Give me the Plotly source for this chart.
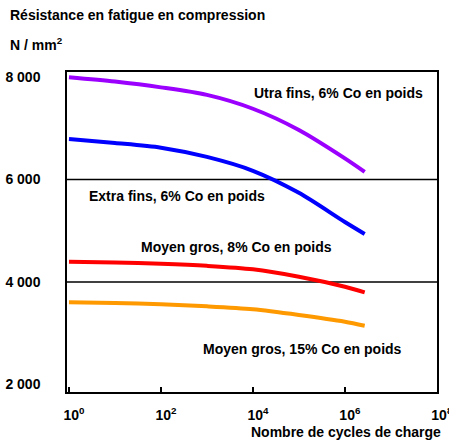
import plotly.graph_objects as go

# Data (x = number of load cycles, y = N/mm2)
cycles = [1, 1e1, 1e2, 1e3, 1e4, 1e5, 1e6, 2.7e6]
ultra_fine_6co = [7994, 7910, 7797, 7650, 7380, 6966, 6413, 6150]
extra_fine_6co = [6790, 6712, 6620, 6440, 6170, 5740, 5170, 4936]
medium_8co = [4396, 4380, 4355, 4315, 4248, 4103, 3908, 3799]
medium_15co = [3604, 3590, 3565, 3525, 3467, 3356, 3225, 3147]

series_names = ["Utra fins, 6% Co en poids", "Extra fins, 6% Co en poids",
                "Moyen gros, 8% Co en poids", "Moyen gros, 15% Co en poids"]
series_values = [ultra_fine_6co, extra_fine_6co, medium_8co, medium_15co]
colors = ["#9B00FF", "#0000FF", "#FF0000", "#FF9900"]

y_tickvals = [2000, 4000, 6000, 8000]
y_ticktext = ["2 000", "4 000", "6 000", "8 000"]
x_tickvals = [1, 1e2, 1e4, 1e6, 1e8]
x_ticktext = ["10<sup>0</sup>", "10<sup>2</sup>", "10<sup>4</sup>", "10<sup>6</sup>", "10<sup>8</sup>"]
gridlines = [4000, 6000]

FONT = "Liberation Sans, Arial, sans-serif"

fig = go.Figure()
for name, vals, c in zip(series_names, series_values, colors):
    fig.add_trace(go.Scatter(x=cycles, y=vals, mode="lines", name=name,
                             line=dict(color=c, width=4, shape="spline", smoothing=0.8),
                             showlegend=False, hoverinfo="skip"))

for g in gridlines:
    fig.add_shape(type="line", xref="paper", x0=0, x1=1, yref="y", y0=g, y1=g,
                  line=dict(color="black", width=1.5), layer="below")

L, R, T, B = 67, 12, 72, 50
W, H = 449, 442
pw, ph = W - L - R, H - T - B

def px(x):
    return (x - L) / pw

def py(y):
    return (H - B - y) / ph

ann = []
def add(text, x, y, xanchor="left", size=14):
    ann.append(dict(text=f"<b>{text}</b>", xref="paper", yref="paper",
                    x=px(x), y=py(y), xanchor=xanchor, yanchor="middle",
                    showarrow=False, font=dict(family=FONT, size=size, color="black")))

add("Résistance en fatigue en compression", 8, 15)
add("N / mm<sup>2</sup>", 8, 44)
add("Nombre de cycles de charge", 443, 432, xanchor="right")
add(series_names[0], 252, 93)
add(series_names[1], 87, 196)
add(series_names[2], 139, 247)
add(series_names[3], 201, 349)

fig.update_layout(
    width=W, height=H,
    margin=dict(l=L, r=R, t=T, b=B, autoexpand=False),
    paper_bgcolor="white", plot_bgcolor="white",
    font=dict(family=FONT, size=14, color="black"),
    annotations=ann,
    xaxis=dict(type="log", range=[-0.043, 8.004], tickvals=x_tickvals,
               ticktext=[f"<b>{t}</b>" for t in x_ticktext],
               ticks="inside", ticklen=5, tickwidth=1.5, tickcolor="black",
               showline=True, linecolor="black", linewidth=1.5, mirror=True,
               showgrid=False, zeroline=False, ticklabelstandoff=9, ticklabelshift=5,
               ticklabeloverflow="allow", automargin=False,
               tickfont=dict(family=FONT, size=14, color="black")),
    yaxis=dict(range=[1854, 8097], tickvals=y_tickvals,
               ticktext=[f"<b>{t}</b>" for t in y_ticktext],
               ticks="", showline=True, linecolor="black", linewidth=1.5, mirror=True,
               showgrid=False, zeroline=False, ticklabelstandoff=22, automargin=False,
               tickfont=dict(family=FONT, size=14, color="black")),
)

fig.write_html("out.html", config={"displayModeBar": False},
               post_script="document.body.style.margin='0px';")
